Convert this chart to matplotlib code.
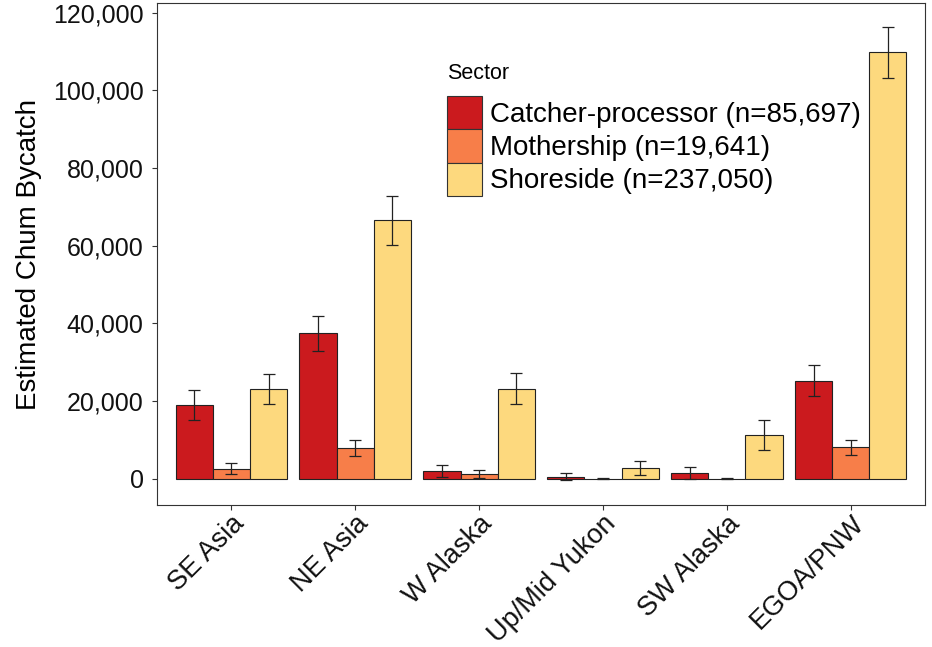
import matplotlib
matplotlib.use("Agg")
import matplotlib.pyplot as plt
import numpy as np
from matplotlib.ticker import FuncFormatter
from matplotlib.patches import Patch

plt.rcParams['font.family'] = ['Liberation Sans', 'DejaVu Sans']

regions = ["SE Asia", "NE Asia", "W Alaska", "Up/Mid Yukon", "SW Alaska", "EGOA/PNW"]
sectors = ["Catcher-processor (n=85,697)", "Mothership (n=19,641)", "Shoreside (n=237,050)"]
colors = ["#cb1a1e", "#f77e49", "#fdd97e"]

cp_vals = [19100, 37500, 2000, 600, 1600, 25300]
cp_err = [3900, 4500, 1600, 1000, 1500, 4000]
ms_vals = [2600, 8000, 1300, 100, 100, 8100]
ms_err = [1400, 2000, 1000, 200, 200, 2000]
ss_vals = [23200, 66600, 23200, 2900, 11300, 109800]
ss_err = [3900, 6300, 4000, 1800, 3800, 6600]

values = [cp_vals, ms_vals, ss_vals]
errors = [cp_err, ms_err, ss_err]

fig = plt.figure(figsize=(9.32, 6.47), dpi=100)
ax = fig.add_axes([0.1685, 0.2195, 0.824, 0.7755])

x = np.arange(len(regions))
w = 0.3
for i, (v, e, c) in enumerate(zip(values, errors, colors)):
    pos = x + (i - 1) * w
    ax.bar(pos, v, width=w, color=c, edgecolor="#222222", linewidth=0.8, zorder=2)
    ax.errorbar(pos, v, yerr=e, fmt="none", ecolor="#222222", elinewidth=0.9,
                capsize=4.5, capthick=0.9, zorder=3)

ax.set_xlim(-0.6, 5.6)
ax.set_ylim(-6700, 122400)
ax.set_yticks(np.arange(0, 120001, 20000))
ax.yaxis.set_major_formatter(FuncFormatter(lambda v, p: f"{int(v):,}"))
ax.set_xticks(x)
ax.set_xticklabels(regions, rotation=45, ha="right", rotation_mode="anchor")
ax.tick_params(axis="both", colors="#333333", labelcolor="#111111",
               length=3.6, width=0.8)
ax.tick_params(axis="y", labelsize=18, pad=6)
ax.tick_params(axis="x", labelsize=19.5, pad=0.5)
ax.set_ylabel("Estimated Chum Bycatch", fontsize=20, labelpad=8)
for s in ax.spines.values():
    s.set_color("#333333")
    s.set_linewidth(0.8)

handles = [Patch(facecolor=c, edgecolor="#333333", linewidth=0.8) for c in colors]
leg = ax.legend(handles, sectors, title="Sector", loc="upper left",
                bbox_to_anchor=(0.4796, 0.903), bbox_transform=fig.transFigure,
                frameon=False, fontsize=20, title_fontsize=15.5,
                handlelength=1.26, handleheight=1.46, labelspacing=0.0,
                handletextpad=0.3, borderpad=0, borderaxespad=0)
leg._legend_box.align = "left"
leg._legend_box.sep = 9

fig.savefig("out.png", dpi=100)
